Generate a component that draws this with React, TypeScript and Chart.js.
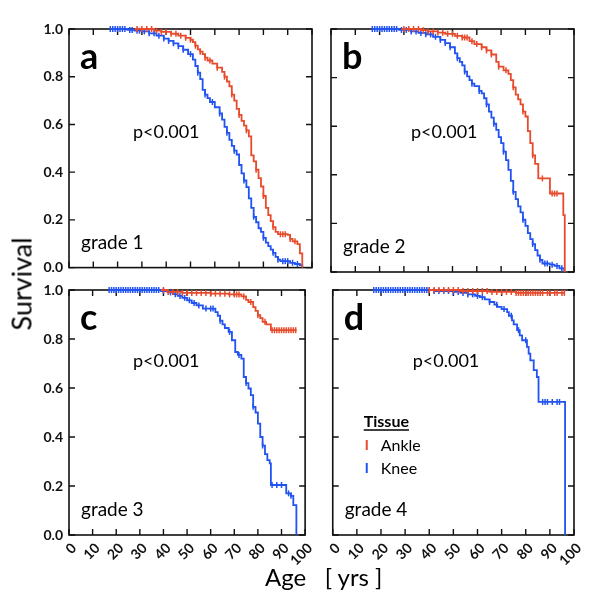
import { useEffect, useRef } from "react";
import { Chart, registerables } from "chart.js";

Chart.register(...registerables);

const xTicks = [0, 10, 20, 30, 40, 50, 60, 70, 80, 90, 100];
const yTicks = [0, 0.2, 0.4, 0.6, 0.8, 1.0];
const tissues = ["Ankle", "Knee"];
const tissueColors = ["#e84b2c", "#2152f2"];
const panelLetters = ["a", "b", "c", "d"];
const gradeLabels = ["grade 1", "grade 2", "grade 3", "grade 4"];
const pValueLabel = "p<0.001";

// grade 1
const ankleAgeA = [27, 35, 38, 42, 45, 48, 50, 51, 52, 53, 54, 55, 56, 57, 59, 61, 63, 64, 65, 66, 67, 68, 69, 70, 71, 72, 73, 74, 75, 76, 77, 78, 79, 80, 81, 82, 83, 84, 85, 86, 90, 91, 92, 94, 95, 96];
const ankleSurvA = [1.0, 0.993, 0.988, 0.98, 0.972, 0.963, 0.955, 0.945, 0.93, 0.915, 0.905, 0.895, 0.88, 0.868, 0.855, 0.838, 0.82, 0.8, 0.78, 0.76, 0.725, 0.7, 0.665, 0.64, 0.615, 0.595, 0.575, 0.55, 0.47, 0.445, 0.41, 0.375, 0.34, 0.3, 0.25, 0.22, 0.195, 0.17, 0.15, 0.14, 0.137, 0.12, 0.11, 0.098, 0.06, 0.0];
const ankleCensorA = [28, 30, 32, 34, 36, 38, 40, 42, 44, 46, 48, 50, 52, 54, 56, 58, 61, 64, 67, 70, 73, 77, 80, 84, 87, 88, 89, 91, 93];
const kneeAgeA = [17, 24, 27, 30, 33, 36, 39, 41, 43, 45, 47, 49, 51, 52, 53, 54, 55, 56, 57, 58, 60, 62, 63, 64, 65, 66, 67, 68, 69, 70, 71, 72, 73, 74, 75, 76, 77, 78, 79, 80, 81, 82, 83, 84, 85, 86, 87, 91, 93, 95, 96];
const kneeSurvA = [1.0, 0.996, 0.993, 0.99, 0.982, 0.972, 0.96, 0.95, 0.94, 0.928, 0.913, 0.895, 0.872, 0.845, 0.817, 0.79, 0.745, 0.725, 0.71, 0.694, 0.672, 0.646, 0.62, 0.59, 0.565, 0.535, 0.51, 0.49, 0.474, 0.43, 0.395, 0.365, 0.337, 0.29, 0.25, 0.213, 0.19, 0.165, 0.15, 0.125, 0.105, 0.09, 0.075, 0.062, 0.045, 0.033, 0.027, 0.02, 0.015, 0.01, 0.0];
const kneeCensorA = [17, 18, 19, 20, 21, 22, 23, 25, 26, 28, 29, 31, 33, 35, 37, 39, 41, 43, 45, 47, 50, 53, 56, 59, 62, 65, 68, 72, 76, 80, 84, 86, 88, 89, 90, 92, 94];

// grade 2
const ankleAgeB = [29, 37, 40, 44, 47, 51, 54, 57, 59, 62, 64, 66, 68, 69, 71, 73, 74, 75, 76, 77, 78, 79, 80, 81, 82, 83, 84, 85.3, 90.1, 95.6, 96.2];
const ankleSurvB = [1.0, 0.995, 0.99, 0.985, 0.98, 0.972, 0.965, 0.95, 0.938, 0.925, 0.912, 0.895, 0.865, 0.845, 0.83, 0.815, 0.79, 0.76, 0.73, 0.71, 0.69, 0.66, 0.64, 0.58, 0.53, 0.48, 0.445, 0.385, 0.323, 0.234, 0.0];
const ankleCensorB = [30, 32, 34, 36, 38, 40, 42, 44, 46, 48, 50, 52, 54, 55, 56, 58, 60, 62, 64, 66, 69, 72, 75, 79, 83, 87, 91, 92, 93];
const kneeAgeB = [17, 28, 33, 36, 39, 42, 45, 47, 49, 51, 52, 53, 54, 55, 56, 57, 58, 59, 61, 62, 63, 64, 65, 66, 67, 68, 69, 70, 71, 72, 73, 74, 75, 76, 77, 78, 79, 80, 81, 82, 83, 84, 85, 86, 87, 90, 92, 94, 96];
const kneeSurvB = [1.0, 0.996, 0.99, 0.984, 0.978, 0.968, 0.955, 0.942, 0.925, 0.9, 0.88, 0.865, 0.85, 0.825, 0.805, 0.79, 0.775, 0.765, 0.745, 0.735, 0.715, 0.69, 0.66, 0.635, 0.61, 0.585, 0.555, 0.53, 0.495, 0.46, 0.42, 0.375, 0.33, 0.3, 0.27, 0.245, 0.215, 0.19, 0.16, 0.135, 0.115, 0.09, 0.068, 0.05, 0.035, 0.03, 0.025, 0.015, 0.0];
const kneeCensorB = [17, 18, 19, 20, 21, 22, 23, 24, 25, 26, 27, 29, 31, 33, 35, 37, 39, 41, 43, 45, 47, 49, 52, 55, 58, 61, 64, 67, 71, 75, 79, 83, 86, 88, 89, 91, 93, 95];

// grade 3
const ankleAgeC = [39, 41.6, 48, 60, 67.6, 73, 75, 76, 78, 79, 80, 81, 82, 83.5, 85.5, 96.4];
const ankleSurvC = [1.0, 0.992, 0.988, 0.985, 0.982, 0.974, 0.96, 0.951, 0.93, 0.915, 0.897, 0.885, 0.87, 0.86, 0.836, 0.836];
const ankleCensorC = [40, 42, 44, 46, 48, 50, 52, 54, 56, 58, 60, 62, 64, 66, 68, 70, 71, 72, 74, 77, 80, 83, 86, 87, 88, 89, 90, 91, 92, 93, 94, 95, 96];
const kneeAgeC = [17, 39, 42, 44, 46, 48, 50, 52, 54, 56.7, 62, 63, 64, 65, 66, 67.6, 69, 70.4, 71.5, 73, 74, 75, 76, 77, 78, 79, 80, 81, 82, 83, 84, 85, 85.5, 92, 94, 95, 96.3];
const kneeSurvC = [1.0, 0.996, 0.99, 0.983, 0.976, 0.968, 0.958, 0.947, 0.937, 0.924, 0.91, 0.895, 0.875, 0.86, 0.845, 0.829, 0.795, 0.747, 0.735, 0.72, 0.645, 0.62, 0.598, 0.571, 0.523, 0.5, 0.455, 0.4, 0.365, 0.33, 0.306, 0.292, 0.204, 0.17, 0.16, 0.122, 0.0];
const kneeCensorC = [17, 18, 19, 20, 21, 22, 23, 24, 25, 26, 27, 28, 29, 30, 31, 32, 33, 34, 35, 36, 37, 38, 40, 43, 45, 47, 49, 51, 53, 55, 58, 60, 61, 64, 68, 72, 75, 78, 82, 86, 88, 90, 93, 94];

// grade 4
const ankleAgeD = [40, 53, 65, 76, 96.3];
const ankleSurvD = [1.0, 0.996, 0.992, 0.988, 0.988];
const ankleCensorD = [40, 42, 44, 46, 48, 50, 52, 54, 56, 58, 60, 62, 64, 66, 68, 70, 72, 74, 76, 77, 78, 79, 80, 81, 82, 83, 84, 85, 86, 87, 89, 90, 92, 93, 95, 96];
const kneeAgeD = [17, 42, 50, 53, 56, 59, 61, 63, 65, 67, 68.2, 70, 72.3, 73, 74.3, 75, 76.4, 77.5, 78.5, 80.5, 81.2, 81.9, 83.3, 84.6, 85.3, 96.3];
const kneeSurvD = [1.0, 0.996, 0.992, 0.988, 0.982, 0.976, 0.971, 0.962, 0.951, 0.94, 0.931, 0.922, 0.91, 0.895, 0.876, 0.86, 0.836, 0.815, 0.795, 0.768, 0.74, 0.713, 0.673, 0.645, 0.543, 0.0];
const kneeCensorD = [17, 18, 19, 20, 21, 22, 23, 24, 25, 26, 27, 28, 29, 30, 31, 32, 33, 34, 35, 36, 37, 38, 39, 40, 42, 44, 46, 48, 50, 52, 54, 56, 58, 60, 62, 65, 68, 71, 74, 77, 80, 87, 88, 89, 91, 93, 94];

const panels = [
  { ankle: [ankleAgeA, ankleSurvA, ankleCensorA], knee: [kneeAgeA, kneeSurvA, kneeCensorA] },
  { ankle: [ankleAgeB, ankleSurvB, ankleCensorB], knee: [kneeAgeB, kneeSurvB, kneeCensorB] },
  { ankle: [ankleAgeC, ankleSurvC, ankleCensorC], knee: [kneeAgeC, kneeSurvC, kneeCensorC] },
  { ankle: [ankleAgeD, ankleSurvD, ankleCensorD], knee: [kneeAgeD, kneeSurvD, kneeCensorD] },
];

const FONT = "Lato, 'Open Sans', sans-serif";

function survAt(ages: number[], surv: number[], t: number) {
  let s = 1;
  for (let i = 0; i < ages.length; i++) {
    if (ages[i] <= t) s = surv[i];
  }
  return s;
}

const panelDecor = {
  id: "panelDecor",
  beforeDatasetsDraw(chart: any) {
    const { ctx, chartArea: a, scales } = chart;
    ctx.save();
    ctx.strokeStyle = "#111";
    ctx.lineWidth = 1.6;
    ctx.strokeRect(a.left, a.top, a.right - a.left, a.bottom - a.top);
    ctx.lineWidth = 1.4;
    ctx.beginPath();
    xTicks.forEach((v) => {
      const px = scales.x.getPixelForValue(v);
      ctx.moveTo(px, a.bottom);
      ctx.lineTo(px, a.bottom - 6);
      ctx.moveTo(px, a.top);
      ctx.lineTo(px, a.top + 6);
    });
    yTicks.forEach((v) => {
      const py = scales.y.getPixelForValue(v);
      ctx.moveTo(a.left, py);
      ctx.lineTo(a.left + 6, py);
      ctx.moveTo(a.right, py);
      ctx.lineTo(a.right - 6, py);
    });
    ctx.stroke();
    ctx.restore();
  },
  afterDraw(chart: any, _args: any, opts: any) {
    const { ctx, chartArea: a } = chart;
    ctx.save();
    ctx.fillStyle = "#000";
    ctx.textBaseline = "alphabetic";
    ctx.font = `bold 36px ${FONT}`;
    ctx.fillText(opts.letter, a.left + 11, a.top + 40);
    ctx.font = `18px ${FONT}`;
    ctx.fillText(pValueLabel, a.left + opts.pdx, a.top + opts.pdy);
    ctx.font = `19px ${FONT}`;
    ctx.fillText(opts.grade, a.left + 12, a.bottom - 19);
    if (opts.legend) {
      ctx.font = `bold 16px ${FONT}`;
      ctx.fillText("Tissue", a.left + 31, a.top + 137);
      const w = ctx.measureText("Tissue").width;
      ctx.strokeStyle = "#000";
      ctx.lineWidth = 1.3;
      ctx.beginPath();
      ctx.moveTo(a.left + 31, a.top + 140);
      ctx.lineTo(a.left + 31 + w, a.top + 140);
      ctx.stroke();
      ctx.font = `16px ${FONT}`;
      tissues.forEach((name, i) => {
        const y = a.top + 161 + i * 23;
        ctx.strokeStyle = tissueColors[i];
        ctx.lineWidth = 2;
        ctx.beginPath();
        ctx.moveTo(a.left + 34, y - 11);
        ctx.lineTo(a.left + 34, y - 1);
        ctx.stroke();
        ctx.fillStyle = "#000";
        ctx.fillText(name, a.left + 48, y);
      });
    }
    ctx.restore();
  },
};

type PanelProps = {
  index: number;
  left: number;
  top: number;
  width: number;
  height: number;
  yWidth: number;
  xHeight: number;
  pad: { top: number; right: number; bottom: number };
};

function SurvivalPanel({ index, left, top, width, height, yWidth, xHeight, pad }: PanelProps) {
  const canvasRef = useRef<HTMLCanvasElement>(null);
  const chartInstance = useRef<Chart | null>(null);

  useEffect(() => {
    if (chartInstance.current) chartInstance.current.destroy();
    const p = panels[index];
    const groups = [p.ankle, p.knee];
    const datasets: any[] = [];
    groups.forEach(([ages, surv, censor], i) => {
      datasets.push({
        label: tissues[i],
        data: ages.map((x, k) => ({ x, y: surv[k] })),
        showLine: true,
        stepped: true,
        borderColor: tissueColors[i],
        borderWidth: 1.8,
        pointRadius: 0,
        clip: false,
      });
      datasets.push({
        label: tissues[i] + " censored",
        data: censor.map((x) => ({ x, y: survAt(ages, surv, x) })),
        showLine: false,
        pointStyle: "line",
        rotation: 90,
        pointRadius: 3,
        borderWidth: 1.5,
        borderColor: tissueColors[i],
        clip: false,
      });
    });
    const showX = xHeight > 0;
    const showY = yWidth > 30;
    chartInstance.current = new Chart(canvasRef.current!, {
      type: "scatter",
      data: { datasets },
      plugins: [panelDecor],
      options: {
        animation: false,
        responsive: false,
        events: [],
        layout: { padding: { left: 0, top: pad.top, right: pad.right, bottom: pad.bottom } },
        plugins: {
          legend: { display: false },
          tooltip: { enabled: false },
          panelDecor: {
            letter: panelLetters[index],
            grade: gradeLabels[index],
            pdx: index % 2 === 0 ? 64 : 80,
            pdy: index < 2 ? 109 : 77,
            legend: index === 3,
          },
        } as any,
        scales: {
          x: {
            type: "linear",
            min: 0,
            max: 100,
            afterBuildTicks: (s: any) => {
              s.ticks = xTicks.map((v) => ({ value: v }));
            },
            afterFit: (s: any) => {
              s.height = xHeight;
            },
            grid: { display: false, drawTicks: false },
            border: { display: false },
            ticks: {
              display: showX,
              autoSkip: false,
              minRotation: 45,
              maxRotation: 45,
              padding: 5,
              labelOffset: 5,
              color: "#111",
              font: { family: FONT, size: 14, weight: "bold" },
              callback: (v: any) => String(v),
            },
          },
          y: {
            type: "linear",
            min: 0,
            max: 1,
            afterBuildTicks: (s: any) => {
              s.ticks = yTicks.map((v) => ({ value: v }));
            },
            afterFit: (s: any) => {
              s.width = yWidth;
            },
            grid: { display: false, drawTicks: false },
            border: { display: false },
            ticks: {
              display: showY,
              padding: 6,
              color: "#111",
              font: { family: FONT, size: 14, weight: "bold" },
              callback: (v: any) => Number(v).toFixed(1),
            },
          },
        },
      },
    });
    return () => {
      if (chartInstance.current) {
        chartInstance.current.destroy();
        chartInstance.current = null;
      }
    };
  }, []);

  return (
    <canvas
      ref={canvasRef}
      width={width}
      height={height}
      style={{ position: "absolute", left, top, width, height }}
    />
  );
}

export default function App() {
  return (
    <div style={{ position: "absolute", left: 0, top: 0, width: 600, height: 607, background: "#fff", overflow: "hidden" }}>
      <SurvivalPanel index={0} left={0} top={0} width={322} height={282} yWidth={69} xHeight={0} pad={{ top: 29, right: 10, bottom: 10 }} />
      <SurvivalPanel index={1} left={322} top={0} width={278} height={282} yWidth={9} xHeight={0} pad={{ top: 29, right: 26, bottom: 10 }} />
      <SurvivalPanel index={2} left={0} top={262} width={322} height={345} yWidth={69} xHeight={40} pad={{ top: 28, right: 10, bottom: 32 }} />
      <SurvivalPanel index={3} left={322} top={262} width={278} height={345} yWidth={9} xHeight={40} pad={{ top: 28, right: 26, bottom: 32 }} />
      <div
        style={{
          position: "absolute",
          left: 21,
          top: 284,
          transform: "translate(-50%, -50%) rotate(-90deg)",
          fontFamily: FONT,
          fontSize: 27,
          lineHeight: 1,
          whiteSpace: "nowrap",
          color: "#000",
        }}
      >
        Survival
      </div>
      <div
        style={{
          position: "absolute",
          left: 265,
          top: 565,
          fontFamily: FONT,
          fontSize: 24,
          lineHeight: 1,
          whiteSpace: "pre",
          color: "#000",
        }}
      >
        {"Age   [ yrs ]"}
      </div>
    </div>
  );
}
